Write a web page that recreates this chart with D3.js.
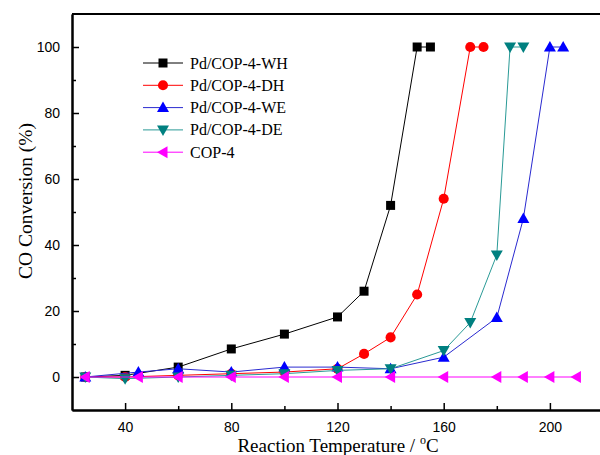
<!DOCTYPE html>
<html>
<head>
<meta charset="utf-8">
<script src="https://cdn.jsdelivr.net/npm/d3@7"></script>
<style>
  body { margin: 0; background: #fff; }
  svg { display: block; }
</style>
</head>
<body>
<div id="chart"></div>
<script>
var width = 600, height = 455;

// temperatures and conversions
var whT = [25, 40, 60, 80, 100, 120, 130, 140, 150, 155];
var whV = [0, 0.5, 3, 8.5, 13, 18.2, 26, 52, 100, 100];
var dhT = [25, 40, 60, 80, 100, 120, 130, 140, 150, 160, 170, 175];
var dhV = [0, 0, 0.5, 1, 1.5, 2.5, 7, 12, 25, 54, 100, 100];
var weT = [25, 45, 60, 80, 100, 120, 140, 160, 180, 190, 200, 205];
var weV = [0, 1.5, 2.5, 1.5, 3, 3, 2.5, 6, 18, 48, 100, 100];
var deT = [25, 40, 60, 80, 100, 120, 140, 160, 170, 180, 185, 190];
var deV = [0, -0.5, 0, 0.5, 1, 2, 2.5, 8, 16.5, 37, 100, 100];
var copT = [25, 45, 60, 80, 100, 120, 140, 160, 180, 190, 200, 210];
var copV = [0, 0, 0, 0, 0, 0, 0, 0, 0, 0, 0, 0];

var seriesNames = ["Pd/COP-4-WH", "Pd/COP-4-DH", "Pd/COP-4-WE", "Pd/COP-4-DE", "COP-4"];
var xTicks = [40, 80, 120, 160, 200];
var yTicks = [0, 20, 40, 60, 80, 100];

var series = [
  { name: seriesNames[0], t: whT, v: whV, color: "#000000", line: "#000000", shape: "square" },
  { name: seriesNames[1], t: dhT, v: dhV, color: "#ff0000", line: "#ff0000", shape: "circle" },
  { name: seriesNames[2], t: weT, v: weV, color: "#0000ff", line: "#2a2ad0", shape: "up" },
  { name: seriesNames[3], t: deT, v: deV, color: "#008080", line: "#2a9a96", shape: "down" },
  { name: seriesNames[4], t: copT, v: copV, color: "#ff00ff", line: "#ff00ff", shape: "left" }
];

var plot = { left: 72, top: 14, right: 603, bottom: 410 };

var x = d3.scaleLinear().domain([20, 220]).range([plot.left, plot.right]);
var y = d3.scaleLinear().domain([-10, 110]).range([plot.bottom, plot.top]);

var svg = d3.select("#chart").append("svg")
  .attr("width", width)
  .attr("height", height);

// markers
function markerPath(shape) {
  if (shape === "square") return "M-4.5,-4.5H4.5V4.5H-4.5Z";
  if (shape === "circle") return d3.symbol().type(d3.symbolCircle).size(80)();
  if (shape === "up") return "M0,-6L6,4.5H-6Z";
  if (shape === "down") return "M0,6L6,-4.5H-6Z";
  if (shape === "left") return "M-6,0L4.5,-6V6Z";
}

// frame line on top, then axes with inward ticks
svg.append("line")
  .attr("x1", plot.left).attr("x2", plot.right)
  .attr("y1", plot.top).attr("y2", plot.top)
  .attr("stroke", "#000").attr("stroke-width", 2);

var xAxis = d3.axisBottom(x).tickValues(xTicks).tickSizeInner(-7).tickSizeOuter(0).tickPadding(12);
var xMinor = d3.axisBottom(x).tickValues([60, 100, 140, 180, 220]).tickSizeInner(-4).tickSizeOuter(0).tickFormat("");
var yAxis = d3.axisLeft(y).tickValues(yTicks).tickSizeInner(-7).tickSizeOuter(0).tickPadding(12);
var yMinor = d3.axisLeft(y).tickValues([10, 30, 50, 70, 90]).tickSizeInner(-4).tickSizeOuter(0).tickFormat("");

function styleAxis(g) {
  g.select(".domain").attr("stroke-width", 2);
  g.selectAll(".tick line").attr("stroke-width", 1.5);
  g.selectAll("text")
    .attr("font-family", "'Liberation Sans', Arial, sans-serif")
    .attr("font-size", 14)
    .attr("fill", "#000");
}

svg.append("g").attr("transform", "translate(0," + plot.bottom + ")").call(xMinor).call(styleAxis);
svg.append("g").attr("transform", "translate(0," + plot.bottom + ")").call(xAxis).call(styleAxis);
svg.append("g").attr("transform", "translate(" + plot.left + ",0)").call(yMinor).call(styleAxis);
svg.append("g").attr("transform", "translate(" + plot.left + ",0)").call(yAxis).call(styleAxis);

// axis titles
svg.append("text")
  .attr("x", 338).attr("y", 452)
  .attr("text-anchor", "middle")
  .attr("font-family", "'Liberation Serif', 'Times New Roman', serif")
  .attr("font-size", 19)
  .html("Reaction Temperature / <tspan dy='-8' font-size='12'>o</tspan><tspan dy='8'>C</tspan>");

svg.append("text")
  .attr("transform", "translate(32,201) rotate(-90)")
  .attr("text-anchor", "middle")
  .attr("font-family", "'Liberation Serif', 'Times New Roman', serif")
  .attr("font-size", 19.5)
  .text("CO Conversion (%)");

// data
var line = d3.line()
  .x(function(d) { return x(d[0]); })
  .y(function(d) { return y(d[1]); });

series.forEach(function(s) {
  var pts = s.t.map(function(t, i) { return [t, s.v[i]]; });
  var g = svg.append("g");
  g.append("path")
    .attr("d", line(pts))
    .attr("fill", "none")
    .attr("stroke", s.line)
    .attr("stroke-width", 1);
  g.selectAll("path.mark")
    .data(pts)
    .enter()
    .append("path")
    .attr("class", "mark")
    .attr("d", markerPath(s.shape))
    .attr("transform", function(d) { return "translate(" + x(d[0]) + "," + y(d[1]) + ")"; })
    .attr("fill", s.color);
});

// legend
var legend = svg.append("g").attr("transform", "translate(143,63)");
var rows = legend.selectAll("g")
  .data(series)
  .enter()
  .append("g")
  .attr("transform", function(d, i) { return "translate(0," + i * 22.3 + ")"; });

rows.append("line")
  .attr("x1", 0).attr("x2", 40)
  .attr("stroke", function(d) { return d.line; })
  .attr("stroke-width", 1);
rows.append("path")
  .attr("d", function(d) { return markerPath(d.shape); })
  .attr("transform", "translate(20,0)")
  .attr("fill", function(d) { return d.color; });
rows.append("text")
  .attr("x", 47).attr("y", 5.5)
  .attr("font-family", "'Liberation Serif', 'Times New Roman', serif")
  .attr("font-size", 16)
  .text(function(d) { return d.name; });
</script>
</body>
</html>
